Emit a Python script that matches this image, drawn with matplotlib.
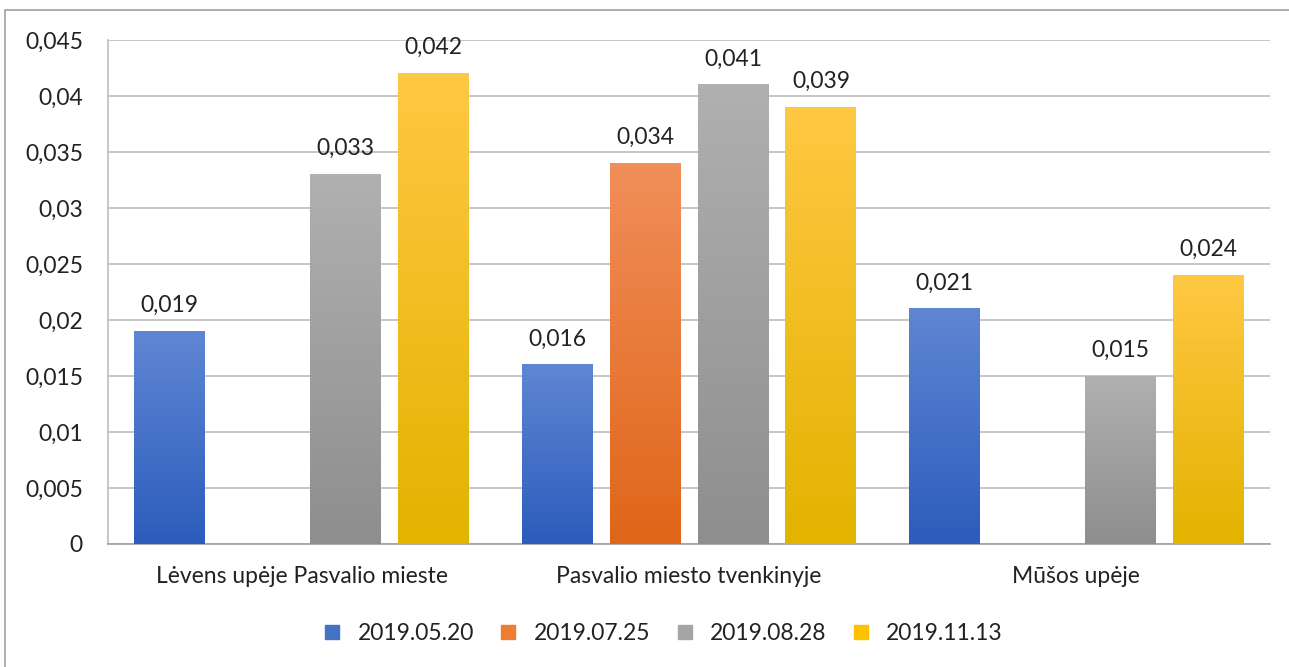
import numpy as np
import matplotlib.pyplot as plt
from matplotlib.colors import LinearSegmentedColormap
from matplotlib.patches import Rectangle
from matplotlib.lines import Line2D

plt.rcParams['font.family'] = ['Lato', 'DejaVu Sans']

categories = ['Lėvens upėje Pasvalio mieste', 'Pasvalio miesto tvenkinyje', 'Mūšos upėje']
series = ['2019.05.20', '2019.07.25', '2019.08.28', '2019.11.13']
v_0520 = [0.019, 0.016, 0.021]
v_0725 = [None, 0.034, None]
v_0828 = [0.033, 0.041, 0.015]
v_1113 = [0.042, 0.039, 0.024]
yticks = [0, 0.005, 0.01, 0.015, 0.02, 0.025, 0.03, 0.035, 0.04, 0.045]

values = [v_0520, v_0725, v_0828, v_1113]
# top / bottom colours of each gradient
grads = [('#5f86d3', '#2c5cbc'),
         ('#f18e59', '#df6619'),
         ('#b0b0b0', '#8e8e8e'),
         ('#ffc843', '#e2b300')]
legend_cols = ['#4472c4', '#ed7d31', '#a5a5a5', '#ffc000']
fs = 16.5

fig = plt.figure(figsize=(12.89, 6.67), dpi=100)
ax = fig.add_axes([108/1289, 1-544/667, (1270-108)/1289, (544-40)/667])

# outer chart border
fig.patches.append(Rectangle((5/1289, -0.1), 1.2, 1-10/667+0.1, transform=fig.transFigure,
                             fill=False, edgecolor='#a0a0a0', lw=1.2))

step = 0.227
width = 0.183
x = np.arange(len(categories))
for i, vals in enumerate(values):
    cmap = LinearSegmentedColormap.from_list('g%d' % i, [grads[i][1], grads[i][0]])
    for j, v in enumerate(vals):
        if v is None:
            continue
        xc = x[j] + (i - 1.5) * step
        grad = np.linspace(0, 1, 100).reshape(-1, 1)
        ax.imshow(grad, cmap=cmap, origin='lower', aspect='auto',
                  extent=[xc - width/2, xc + width/2, 0, v], zorder=3)
        ax.annotate(('%g' % v).replace('.', ','), (xc, v), xytext=(0, 11),
                    textcoords='offset points', ha='center', va='bottom',
                    fontsize=fs, color='#222222')

ax.set_xlim(-0.5, 2.5)
ax.set_ylim(0, 0.045)
ax.set_yticks(yticks)
ax.set_yticklabels([('%g' % t).replace('.', ',') for t in yticks])
ax.set_xticks(x)
ax.set_xticklabels(categories)
ax.tick_params(axis='y', length=0, pad=18, labelsize=fs, labelcolor='#222222')
ax.tick_params(axis='x', length=0, pad=16, labelsize=fs, labelcolor='#222222')
ax.grid(axis='y', color='#bcbcbc', lw=1.2, zorder=0)
ax.set_axisbelow(True)
for s in ['top', 'right']:
    ax.spines[s].set_visible(False)
ax.spines['left'].set_color('#bcbcbc')
ax.spines['bottom'].set_color('#a0a0a0')
ax.spines['left'].set_linewidth(1.2)
ax.spines['bottom'].set_linewidth(1.2)

handles = [Line2D([], [], marker='s', ls='none', markersize=10, color=c) for c in legend_cols]
fig.legend(handles, series, loc='center', bbox_to_anchor=(656/1289, 1-634/667), ncol=4,
           frameon=False, fontsize=fs, handletextpad=0.1, columnspacing=0.5,
           labelcolor='#222222')

fig.savefig('out.png', dpi=100)
